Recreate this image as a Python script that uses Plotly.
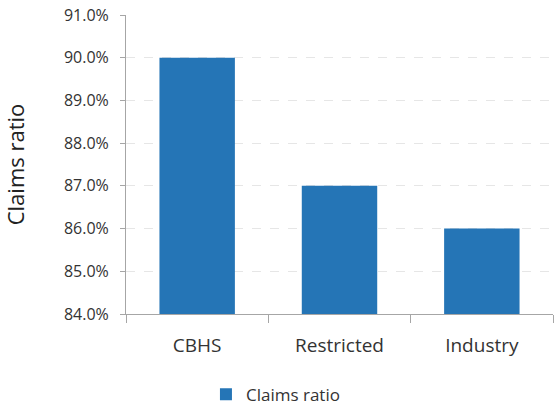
import plotly.graph_objects as go

categories = ["CBHS", "Restricted", "Industry"]
claims_ratio = [0.90, 0.87, 0.86]
series_name = "Claims ratio"
y_ticks = [0.84, 0.85, 0.86, 0.87, 0.88, 0.89, 0.90, 0.91]

fig = go.Figure()
fig.add_trace(go.Bar(x=categories, y=claims_ratio, name=series_name,
                     marker=dict(color="#2575B6", line=dict(width=0)),
                     showlegend=True))

font_family = "Open Sans, Liberation Sans, sans-serif"
fig.update_layout(
    width=558, height=405,
    margin=dict(l=126, r=5, t=15, b=91, autoexpand=False),
    plot_bgcolor="white", paper_bgcolor="white",
    bargap=0.47,
    font=dict(family=font_family, size=15, color="#333333"),
    showlegend=True,
    legend=dict(orientation="h", x=0.35, xanchor="center", y=-0.27, yanchor="middle",
                font=dict(size=17, color="#333333"), itemwidth=30),
    xaxis=dict(showline=True, linecolor="#a6a6a6", linewidth=1,
               ticks="outside", tickson="boundaries", ticklen=8, tickcolor="#a6a6a6",
               ticklabelstandoff=14,
               tickfont=dict(size=19, color="#333333"), showgrid=False),
    yaxis=dict(range=[0.84, 0.91], tickvals=y_ticks, tickformat=".1%",
               showline=True, linecolor="#a6a6a6", linewidth=1,
               ticks="outside", ticklen=5, tickcolor="#a6a6a6",
               ticklabelstandoff=8,
               showgrid=True, gridcolor="#e6e6e6", griddash="dash", gridwidth=1,
               zeroline=False,
               tickfont=dict(size=16, color="#333333"),
               title=dict(text="Claims ratio", font=dict(size=22, color="#222222"), standoff=37)),
)
fig.write_html("out.html")
